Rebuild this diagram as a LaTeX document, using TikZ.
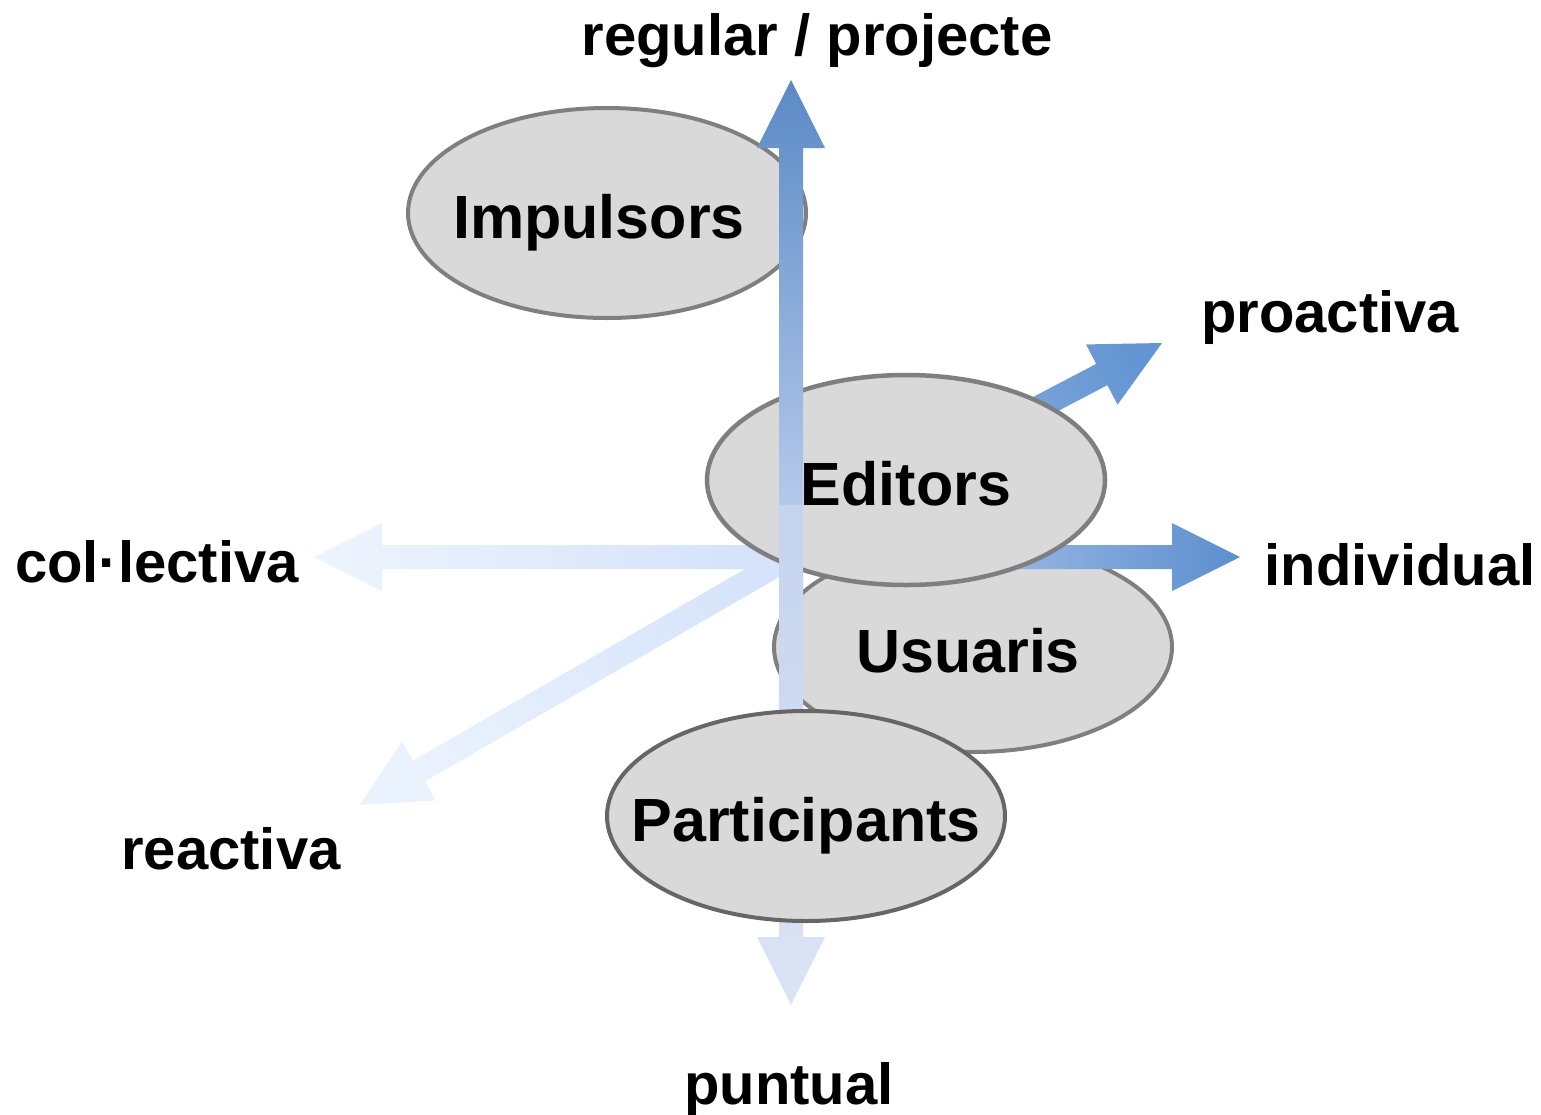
\documentclass[tikz,border=0pt]{standalone}
\usepackage{fontspec}
\setmainfont{Liberation Sans}
\usetikzlibrary{shapes.geometric,calc}
\definecolor{actorFill}{HTML}{D9D9D9}
\definecolor{actorLine}{HTML}{7F7F7F}
\definecolor{axisDark}{HTML}{5A8AC6}
\definecolor{axisMid}{HTML}{B5C9EA}
\definecolor{axisLow}{HTML}{C4D3EE}
\definecolor{axisPale}{HTML}{DBE4F4}
\definecolor{indStart}{HTML}{C9DBF7}
\definecolor{indEnd}{HTML}{5C8ECF}
\definecolor{colStart}{HTML}{D2E1FA}
\definecolor{colEnd}{HTML}{EDF4FD}
\definecolor{reaStart}{HTML}{D6E4FB}
\definecolor{reaEnd}{HTML}{EAF2FD}
\definecolor{proStart}{HTML}{82A9DC}
\definecolor{proEnd}{HTML}{6396D2}
\newcommand{\actorFont}{\fontsize{61}{70}\selectfont\bfseries}
\newcommand{\axisFont}{\fontsize{58}{66}\selectfont\bfseries}
\newcommand{\actorEllipse}[5][]{
	\path (#2,#3) node[actor, #1](#4){\makebox[0pt][c]{#5}};
}
\newcommand{\axisArrow}[3][]{
	\coordinate (#2#3) at ($(#3)!68pt!(#2)$);
	\shade[#1] ($(#2)!12pt!90:(#3)$) -- ($(#2#3)!12pt!90:(#3)$) -- ($(#2#3)!34pt!90:(#3)$) -- (#3)
		-- ($(#2#3)!34pt!-90:(#3)$) -- ($(#2#3)!12pt!-90:(#3)$) -- ($(#2)!12pt!-90:(#3)$) -- cycle;
}

\begin{document}
\begin{tikzpicture}[x=1pt, y=-1pt,
	actor/.style={ellipse, draw=actorLine, fill=actorFill, line width=4pt, minimum width=398pt,
		minimum height=210pt, inner sep=0pt, text height=50pt, text depth=0pt, font=\actorFont},
	axislabel/.style={anchor=base, font=\axisFont}]
	\useasboundingbox (0,0) rectangle (1541,1114);

	% ends of the axes
	\coordinate (hub) at (791,505);
	\coordinate (centre) at (790,557);
	\coordinate (regTip) at (791,80);
	\coordinate (puntTip) at (791,1005);
	\coordinate (indTip) at (1240,557);
	\coordinate (colTip) at (314,557);
	\coordinate (reaTip) at (360,805);
	\coordinate (proBase) at (950,454);
	\coordinate (proTip) at (1162,343);

	\actorEllipse{607}{213}{impulsors}{\kern-16pt Impulsors};
	\actorEllipse{973}{647}{usuaris}{\kern-10pt Usuaris};

	\axisArrow[left color=colEnd, right color=colStart]{centre}{colTip};
	\axisArrow[top color=reaEnd, bottom color=reaStart, shading angle=119.5]{centre}{reaTip};
	\axisArrow[left color=indStart, right color=indEnd]{centre}{indTip};
	\axisArrow[top color=proEnd, bottom color=proStart, shading angle=-62.4]{proBase}{proTip};

	\actorEllipse[line width=4.5pt]{906}{480}{editors}{Editors};

	\axisArrow[top color=axisDark, bottom color=axisMid]{hub}{regTip};
	\axisArrow[top color=axisLow, bottom color=axisPale]{hub}{puntTip};

	\actorEllipse[draw=black!60]{806}{816}{participants}{Participants};

	\node[axislabel] (regular) at (817,55) {regular / projecte};
	\node[axislabel] (puntual) at (789,1104) {puntual};
	\node[axislabel] (proactiva) at (1330,332) {proactiva};
	\node[axislabel] (reactiva) at (231,869) {reactiva};
	\node[axislabel] (collectiva) at (157,582) {col·lectiva};
	\node[axislabel] (individual) at (1400,585) {individual};
\end{tikzpicture}
\end{document}
